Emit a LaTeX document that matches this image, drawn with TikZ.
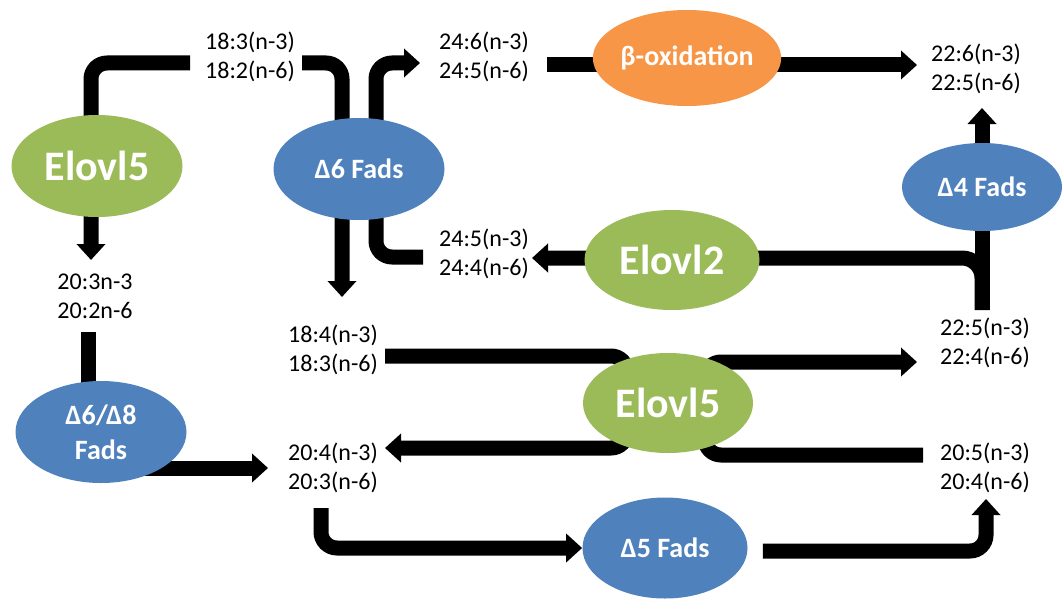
\documentclass[tikz,border=0pt]{standalone}
\usepackage{fontspec}
\setmainfont{Carlito}
\usetikzlibrary{shapes.geometric, arrows.meta, backgrounds}
\definecolor{elogreen}{HTML}{9BBB59}
\definecolor{fadsblue}{HTML}{4F81BD}
\definecolor{betaorange}{HTML}{F79646}
\begin{document}
\begin{tikzpicture}[
    x=0.5pt, y=-0.5pt,
    enz/.style={ellipse, fill=#1, text=white, inner sep=0pt, align=center,
                minimum width=85.5pt, minimum height=51pt,
                font=\bfseries\fontsize{14}{17.5}\selectfont},
    big/.style={font=\bfseries\fontsize{21}{25}\selectfont},
    fa/.style={align=center, inner sep=0pt, font=\fontsize{12}{14.5}\selectfont},
    ln/.style={line width=7.5pt, rounded corners=8pt},
    arr/.style={ln, -{Triangle[width=14pt, length=8pt]}}
]
\useasboundingbox (0,0) rectangle (1063,599);

\node[fa] (t18) at (250,57) {18:3(n-3)\\18:2(n-6)};
\node[fa] (t24a) at (484,57) {24:6(n-3)\\24:5(n-6)};
\node[fa] (t22a) at (976,69) {22:6(n-3)\\22:5(n-6)};
\node[fa] (t24b) at (484,254) {24:5(n-3)\\24:4(n-6)};
\node[fa] (t20a) at (95,296) {20:3n-3\\20:2n-6};
\node[fa] (t18b) at (333,350) {18:4(n-3)\\18:3(n-6)};
\node[fa] (t22b) at (985,343) {22:5(n-3)\\22:4(n-6)};
\node[fa] (t20b) at (333,468) {20:4(n-3)\\20:3(n-6)};
\node[fa] (t20c) at (985,468) {20:5(n-3)\\20:4(n-6)};

\node[enz=elogreen, big] (e5a) at (97,166) {Elovl5};
\node[enz=fadsblue] (d6) at (359,169) {Δ6 Fads};
\node[enz=betaorange, minimum width=89pt, minimum height=48pt] (beta) at (687,58) {β-oxidation};
\node[enz=fadsblue, minimum width=80pt, minimum height=44pt] (d4) at (982,187) {Δ4 Fads};
\node[enz=elogreen, big, minimum width=87.5pt, minimum height=50pt] (e2) at (672,260) {Elovl2};
\node[enz=fadsblue] (d68) at (101,432) {Δ6/Δ8\\Fads};
\node[enz=elogreen, big, minimum width=85pt, minimum height=50pt] (e5b) at (668,403) {Elovl5};
\node[enz=fadsblue, minimum width=82.5pt, minimum height=50.5pt] (d5) at (665,548) {Δ5 Fads};

\begin{scope}[on background layer]
\draw[arr] ([shift={(-60,6)}]t18.center) -| ([shift={(-6,0)}]e5a.center) -- ([shift={(-4,-36)}]t20a.center);
\draw[arr] ([shift={(52,6)}]t18.center) -| ([shift={(-17,128)}]d6.center);
\draw[arr] ([shift={(-61,3)}]t24b.center) -| ([shift={(17,0)}]d6.center) |- ([shift={(-64,6)}]t24a.center);
\draw[arr] ([shift={(63,8)}]t24a.center) -- ([shift={(-59,-4)}]t22a.center);
\draw[arr] ([shift={(-3,-33)}]t22b.center) -- ([shift={(6,39)}]t22a.center);
\draw[arr, rounded corners=10pt] ([shift={(-3,-33)}]t22b.center) |- ([shift={(48,4)}]t24b.center);
\draw[ln] ([shift={(-7,36)}]t20a.center) -- ([shift={(-13,0)}]d68.center);
\draw[arr] ([shift={(20,36)}]d68.center) -- ([shift={(-65,0)}]t20b.center);
\draw[ln] ([shift={(52,6)}]t18b.center) -| ([shift={(-41,0)}]e5b.center);
\draw[arr] ([shift={(37,0)}]e5b.center) |- ([shift={(-68,19)}]t22b.center);
\draw[ln] ([shift={(-62,-13)}]t20c.center) -| ([shift={(37,0)}]e5b.center);
\draw[arr] ([shift={(-41,0)}]e5b.center) |- ([shift={(52,-20)}]t20b.center);
\draw[arr] ([shift={(-12,40)}]t20b.center) |- (d5.west);
\draw[arr] ([shift={(15,3)}]d5.east) -| ([shift={(1,31)}]t20c.center);
\end{scope}
\end{tikzpicture}
\end{document}
